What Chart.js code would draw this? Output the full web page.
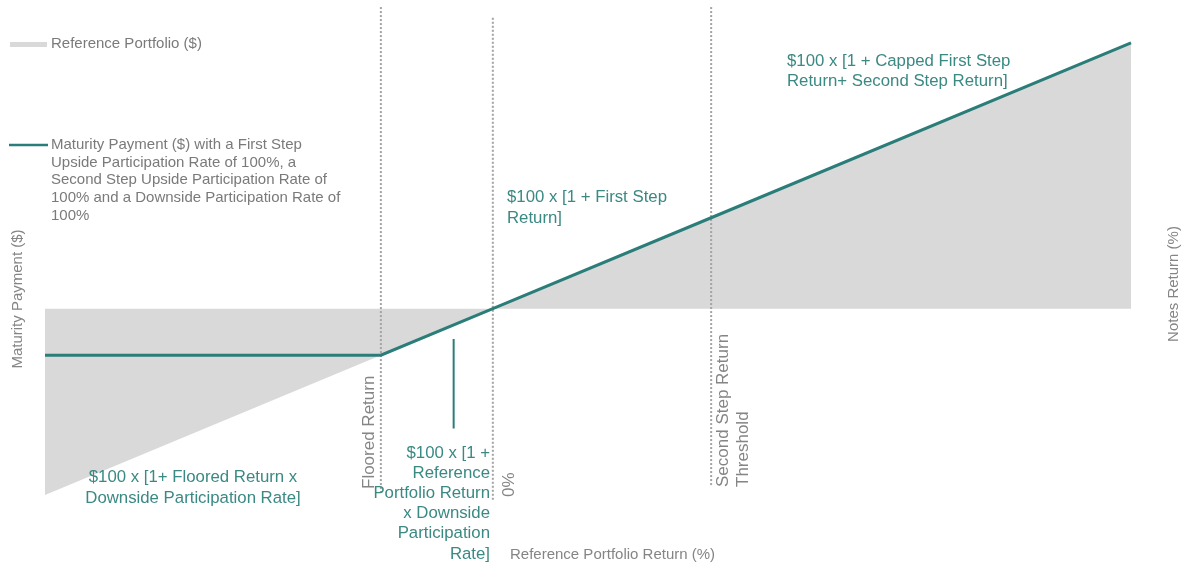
<!DOCTYPE html>
<html>
<head>
<meta charset="utf-8">
<script src="https://cdn.jsdelivr.net/npm/chart.js@4/dist/chart.umd.min.js"></script>
<style>
  html, body { margin: 0; padding: 0; background: #fff; }
  #wrap { width: 1185px; height: 567px; position: relative; }
</style>
</head>
<body>
<div id="wrap"><canvas id="payoff" width="1185" height="567"></canvas></div>
<script>
// reference portfolio return (%) and payments ($)
const returns            = [-40, -10, 0, 19.5, 57];
const referencePortfolio = [60, 90, 100, 119.5, 157];
const maturityPayment    = [90, 90, 100, 119.5, 157];
const baseline = 100;

// dotted guide lines: return level, top and bottom payment value
const guideX      = [-10, 0, 19.5];
const guideTop    = [164.7, 162.4, 164.7];
const guideBottom = [60.5, 59.0, 61.8];

// connector line of the middle formula
const connectorX = -3.5;
const connectorY = [93.5, 74.3];

const TEAL = '#2a7d78';
const TEAL_TXT = '#3a8983';
const GREY_TXT = '#858585';
const FONT = '"Liberation Sans", Arial, sans-serif';

const pts = (xs, ys) => xs.map((x, i) => ({ x, y: ys[i] }));

const datasets = [
    {
        label: 'Maturity Payment ($)',
        data: pts(returns, maturityPayment),
        borderColor: TEAL, borderWidth: 3, pointRadius: 0,
        fill: false, order: 1, clip: false,
    },
    {
        label: 'Reference Portfolio ($)',
        data: pts(returns, referencePortfolio),
        borderColor: 'rgba(0,0,0,0)', borderWidth: 0, pointRadius: 0,
        backgroundColor: '#d9d9d9',
        fill: { value: baseline }, order: 5,
    },
    {
        label: 'connector',
        data: pts([connectorX, connectorX], connectorY),
        borderColor: TEAL, borderWidth: 2, pointRadius: 0, fill: false, order: 2,
    },
];
guideX.forEach((gx, i) => {
    datasets.push({
        label: 'guide' + i,
        data: pts([gx, gx], [guideTop[i], guideBottom[i]]),
        borderColor: '#a3a3a3', borderWidth: 2, borderDash: [2, 2],
        pointRadius: 0, fill: false, order: 3,
    });
});

// ── Text labels ──
const textPlugin = {
    id: 'labels',
    afterDraw(chart) {
        const c = chart.ctx;
        c.save();
        c.textBaseline = 'middle';

        // legend
        c.fillStyle = '#d9d9d9';
        c.fillRect(10, 42, 37, 5);
        c.strokeStyle = TEAL; c.lineWidth = 2.5;
        c.beginPath(); c.moveTo(9, 145); c.lineTo(48, 145); c.stroke();

        c.font = '15px ' + FONT;
        c.fillStyle = '#7a7a7a';
        c.textAlign = 'left';
        c.fillText('Reference Portfolio ($)', 51, 44);
        ['Maturity Payment ($) with a First Step',
         'Upside Participation Rate of 100%, a',
         'Second Step Upside Participation Rate of',
         '100% and a Downside Participation Rate of',
         '100%'].forEach((t, i) => c.fillText(t, 51, 145 + i * 17.6));

        // formulas
        c.font = '16.8px ' + FONT;
        c.fillStyle = TEAL_TXT;
        c.fillText('$100 x [1 + First Step', 507, 197);
        c.fillText('Return]', 507, 218);
        c.fillText('$100 x [1 + Capped First Step', 787, 61);
        c.fillText('Return+ Second Step Return]', 787, 81);
        c.textAlign = 'center';
        c.fillText('$100 x [1+ Floored Return x', 193, 477);
        c.fillText('Downside Participation Rate]', 193, 498);
        c.textAlign = 'right';
        ['$100 x [1 +', 'Reference', 'Portfolio Return', 'x Downside', 'Participation', 'Rate]']
            .forEach((t, i) => c.fillText(t, 490, 453 + i * 20.2));

        // axis titles
        c.font = '15px ' + FONT;
        c.fillStyle = GREY_TXT;
        c.textAlign = 'left';
        c.fillText('Reference Portfolio Return (%)', 510, 555);

        const vert = (t, x, y, align, size) => {
            c.save();
            c.translate(x, y);
            c.rotate(-Math.PI / 2);
            c.font = size + 'px ' + FONT;
            c.textAlign = align;
            c.fillText(t, 0, 0);
            c.restore();
        };
        vert('Maturity Payment ($)', 18, 299, 'center', 15);
        vert('Notes Return (%)', 1174, 284, 'center', 15);

        // guide labels
        vert('Floored Return', 369, 489, 'left', 17);
        vert('0%', 509, 497, 'left', 17);
        vert('Second Step Return', 723, 487, 'left', 17);
        vert('Threshold', 743, 487, 'left', 17);

        c.restore();
    }
};

new Chart(document.getElementById('payoff').getContext('2d'), {
    type: 'line',
    data: { datasets },
    options: {
        responsive: false, animation: false,
        layout: { padding: { left: 45, right: 54, top: 1, bottom: 2 } },
        plugins: { legend: { display: false }, tooltip: { enabled: false } },
        scales: {
            x: { type: 'linear', display: false, min: -40, max: 57 },
            y: { type: 'linear', display: false, min: 45, max: 166 },
        },
    },
    plugins: [textPlugin],
});
</script>
</body>
</html>
